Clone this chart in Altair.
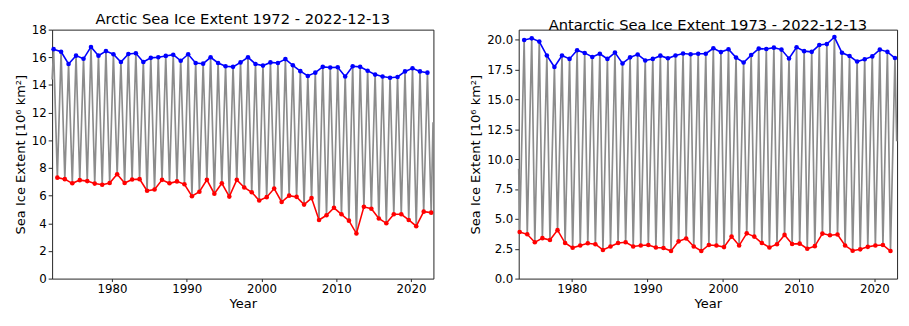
import altair as alt
import pandas as pd

# ---------------- data ----------------
arctic_years = list(range(1972, 2023))
arctic_max = [16.59, 16.40, 15.52, 16.12, 15.89, 16.75, 16.12, 16.45, 16.22, 15.66,
              16.24, 16.29, 15.66, 15.96, 16.00, 16.10, 16.19, 15.75, 16.22, 15.59,
              15.54, 16.00, 15.59, 15.35, 15.31, 15.63, 16.00, 15.52, 15.40, 15.63,
              15.59, 15.87, 15.42, 15.00, 14.65, 14.89, 15.31, 15.26, 15.28, 14.61,
              15.35, 15.31, 15.03, 14.75, 14.61, 14.52, 14.58, 14.98, 15.21, 14.98,
              14.89]
arctic_min = [7.30, 7.19, 6.89, 7.12, 7.05, 6.87, 6.79, 6.91, 7.54, 6.91,
              7.17, 7.19, 6.35, 6.44, 7.14, 6.89, 7.03, 6.82, 5.96, 6.28,
              7.14, 6.14, 6.89, 5.93, 7.14, 6.59, 6.24, 5.65, 5.89, 6.51,
              5.54, 6.00, 5.91, 5.35, 5.82, 4.24, 4.58, 5.12, 4.65, 4.19,
              3.26, 5.19, 5.05, 4.35, 4.00, 4.65, 4.65, 4.24, 3.79, 4.84,
              4.77]
arctic_start = (1972.0, 14.4)
arctic_end = (2022.95, 11.3)
arctic_max_frac = 0.20   # March
arctic_min_frac = 0.70   # September

ant_years = list(range(1973, 2023))
ant_max = [19.98, 20.12, 19.85, 18.68, 17.72, 18.68, 18.40, 19.13, 18.90, 18.56,
           18.83, 18.40, 18.93, 18.02, 18.53, 18.77, 18.27, 18.40, 18.67, 18.45,
           18.69, 18.85, 18.79, 18.83, 18.83, 19.29, 18.97, 19.21, 18.51, 18.10,
           18.72, 19.26, 19.23, 19.34, 19.18, 18.43, 19.37, 19.05, 18.99, 19.56,
           19.64, 20.23, 18.91, 18.64, 18.18, 18.37, 18.61, 19.18, 18.99, 18.47]
ant_min = [3.90, 3.71, 3.04, 3.39, 3.23, 4.06, 2.98, 2.58, 2.77, 2.96,
           2.88, 2.40, 2.69, 2.98, 3.04, 2.69, 2.77, 2.82, 2.61, 2.56,
           2.31, 3.12, 3.36, 2.69, 2.31, 2.82, 2.77, 2.64, 3.52, 2.77,
           3.79, 3.52, 2.98, 2.61, 2.88, 3.66, 2.90, 2.93, 2.50, 2.72,
           3.77, 3.63, 3.69, 2.77, 2.34, 2.45, 2.66, 2.77, 2.82, 2.31]
ant_start = (1973.0, 9.2)
ant_end = (2022.95, 11.5)
ant_min_frac = 0.13      # February
ant_max_frac = 0.72      # September

x_ticks = [1980, 1990, 2000, 2010, 2020]
arctic_y_ticks = [0, 2, 4, 6, 8, 10, 12, 14, 16, 18]
ant_y_ticks = [0.0, 2.5, 5.0, 7.5, 10.0, 12.5, 15.0, 17.5, 20.0]

FONT = "DejaVu Sans"
Y_TITLE = "Sea Ice Extent [10\u2076 km\u00b2]"


def build_frames(years, maxv, minv, fmax, fmin, start, end):
    mx = pd.DataFrame({"t": [y + fmax for y in years], "v": maxv})
    mn = pd.DataFrame({"t": [y + fmin for y in years], "v": minv})
    series = pd.concat([
        pd.DataFrame({"t": [start[0]], "v": [start[1]]}),
        mx, mn,
        pd.DataFrame({"t": [end[0]], "v": [end[1]]}),
    ]).sort_values("t").reset_index(drop=True)
    return series, mx, mn


def panel(title, series, mx, mn, xdom, ydom, yticks, yfmt, width, height):
    x = alt.X("t:Q", scale=alt.Scale(domain=xdom, nice=False, zero=False),
              axis=alt.Axis(values=x_ticks, format="d", title="Year"))
    y = alt.Y("v:Q", scale=alt.Scale(domain=ydom, nice=False, zero=False),
              axis=alt.Axis(values=yticks, format=yfmt, title=Y_TITLE))
    gray = alt.Chart(series).mark_line(color="#8c8c8c", strokeWidth=1.7).encode(
        x=x, y=y, order="t:Q")
    blue = alt.Chart(mx).mark_line(
        color="#0000ff", strokeWidth=1.6,
        point=alt.OverlayMarkDef(color="#0000ff", filled=True, size=22, opacity=1),
    ).encode(x=x, y=y)
    red = alt.Chart(mn).mark_line(
        color="#ff0000", strokeWidth=1.6,
        point=alt.OverlayMarkDef(color="#ff0000", filled=True, size=22, opacity=1),
    ).encode(x=x, y=y)
    return alt.layer(gray, blue, red).properties(
        width=width, height=height,
        title=alt.TitleParams(title, fontSize=15, font=FONT, fontWeight="normal",
                              color="black", offset=-3, frame="group"),
    )


a_series, a_max, a_min = build_frames(arctic_years, arctic_max, arctic_min,
                                      arctic_max_frac, arctic_min_frac,
                                      arctic_start, arctic_end)
s_series, s_max, s_min = build_frames(ant_years, ant_max, ant_min,
                                      ant_max_frac, ant_min_frac,
                                      ant_start, ant_end)

left = panel("Arctic Sea Ice Extent 1972 - 2022-12-13", a_series, a_max, a_min,
             [1972.0, 2023.0], [0, 18], arctic_y_ticks, "d", 389, 254)
right = panel("Antarctic Sea Ice Extent 1973 - 2022-12-13", s_series, s_max, s_min,
              [1973.0, 2023.0], [0, 20.85], ant_y_ticks, ".1f", 386, 254)

chart = alt.hconcat(left, right, spacing=31).properties(
    padding={"left": 5, "top": 0, "right": 0, "bottom": 0},
    background="white",
).configure_view(
    stroke="#222222", strokeWidth=1,
).configure_axis(
    grid=False, domain=False,
    ticks=True, tickSize=4, tickColor="#222222", tickWidth=1,
    labelFont=FONT, labelFontSize=12, labelColor="black", labelPadding=2,
    titleFont=FONT, titleFontSize=13.3, titleFontWeight="normal", titleColor="black",
    titlePadding=4,
).configure_axisX(tickSize=3, labelPadding=2, titlePadding=2)

chart.save("out.html", embed_options={"renderer": "svg", "actions": False})
